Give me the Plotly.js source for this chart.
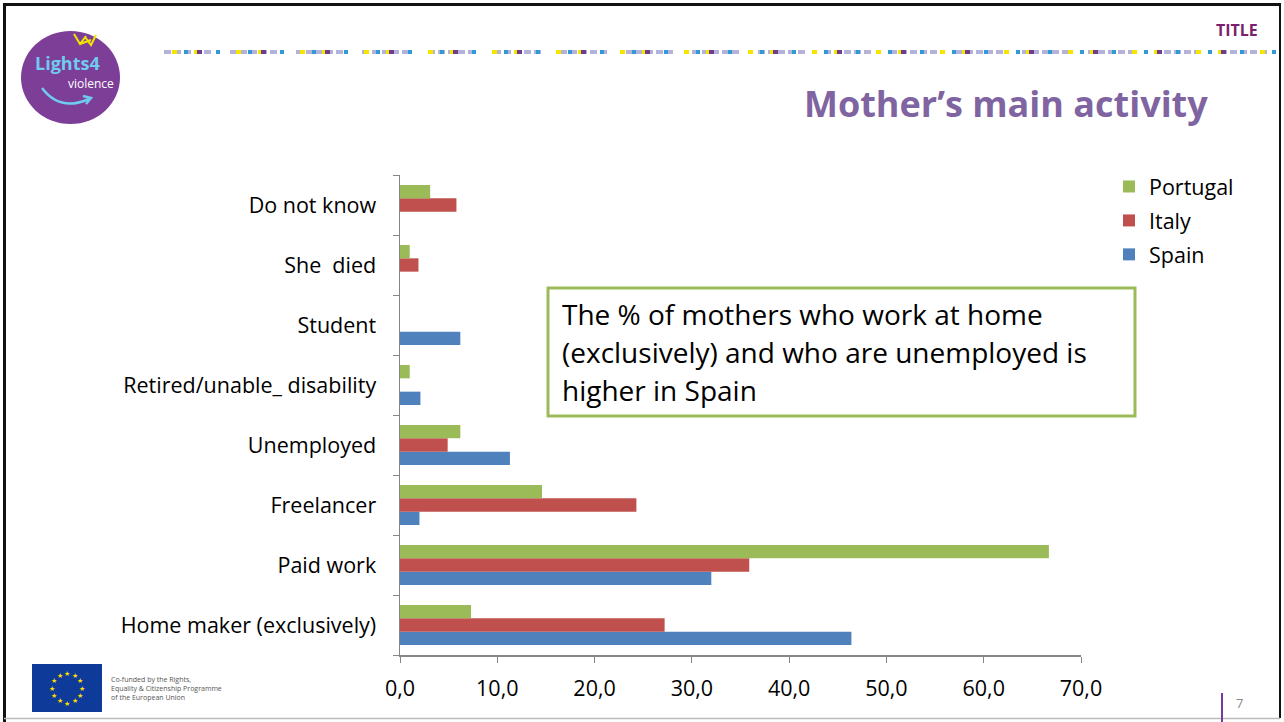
<!DOCTYPE html>
<html>
<head>
<meta charset="utf-8">
<script src="https://cdn.plot.ly/plotly-3.0.1.min.js"></script>
<style>html,body{margin:0;padding:0;background:#fff;}#chart{width:1284px;height:722px;}</style>
</head>
<body>
<div id="chart"></div>
<script>
// Categories listed bottom to top
const categories = ["Home maker (exclusively)", "Paid work", "Freelancer", "Unemployed",
  "Retired/unable_ disability", "Student", "She\u00a0\u00a0died", "Do not know"];
const spain    = [46.4, 32.0, 2.0, 11.3, 2.1, 6.2, 0, 0];
const italy    = [27.2, 35.9, 24.3, 4.9, 0, 0, 1.9, 5.8];
const portugal = [7.3, 66.7, 14.6, 6.2, 1.0, 0, 1.0, 3.1];
const xTicks = [0, 10, 20, 30, 40, 50, 60, 70];
const boxLines = ["The % of mothers who work at home",
  "(exclusively) and who are unemployed is", "higher in Spain"];

const FONT = "'Open Sans', Lato, sans-serif";
const L = 400, R = 1081, T = 175, B = 655;
const px = x => (x - L) / (R - L);
const py = y => (B - y) / (B - T);

const traces = [
  {name: "Spain", y: categories, x: spain, type: "bar", orientation: "h",
   marker: {color: "#4F81BD"}, legendgroup: "s", legendrank: 3},
  {name: "Italy", y: categories, x: italy, type: "bar", orientation: "h",
   marker: {color: "#C0504D"}, legendgroup: "i", legendrank: 2},
  {name: "Portugal", y: categories, x: portugal, type: "bar", orientation: "h",
   marker: {color: "#9BBB59"}, legendgroup: "p", legendrank: 1}
];

const shapes = [
  // slide frame
  {type: "line", xref: "paper", yref: "paper", x0: px(3), x1: px(1281), y0: py(4.5), y1: py(4.5), line: {color: "#111", width: 3}},
  {type: "line", xref: "paper", yref: "paper", x0: px(4.5), x1: px(4.5), y0: py(3), y1: py(722), line: {color: "#111", width: 3}},
  {type: "line", xref: "paper", yref: "paper", x0: px(1280), x1: px(1280), y0: py(3), y1: py(718), line: {color: "#111", width: 2}},
  {type: "line", xref: "paper", yref: "paper", x0: px(4), x1: px(1280), y0: py(718.5), y1: py(718.5), line: {color: "#bbbbbb", width: 1.5}},
  // decorative dotted header line
  {type: "line", xref: "paper", yref: "paper", x0: px(164), x1: px(1280), y0: py(52), y1: py(52), line: {color: "#B5B1D8", width: 4, dash: "7px,3px,7px,3px,7px,3px,7px,3px,7px,19px"}},
  {type: "line", xref: "paper", yref: "paper", x0: px(172), x1: px(1280), y0: py(52), y1: py(52), line: {color: "#F5E600", width: 4, dash: "5px,17px,5px,37px"}},
  {type: "line", xref: "paper", yref: "paper", x0: px(184), x1: px(1280), y0: py(52), y1: py(52), line: {color: "#2E9BD6", width: 4, dash: "4px,28px,4px,28px"}},
  {type: "line", xref: "paper", yref: "paper", x0: px(197), x1: px(1280), y0: py(52), y1: py(52), line: {color: "#6B3F8F", width: 4, dash: "5px,59px"}},
  // logo
  {type: "circle", xref: "paper", yref: "paper", x0: px(21), x1: px(120), y0: py(31), y1: py(124), fillcolor: "#7D3E97", line: {width: 0}},
  {type: "path", xref: "paper", yref: "paper",
   path: "M " + px(42) + "," + py(88) + " Q " + px(60) + "," + py(112) + " " + px(89) + "," + py(99),
   line: {color: "#6FCBEF", width: 2.5}},
  {type: "path", xref: "paper", yref: "paper",
   path: "M " + px(83) + "," + py(96) + " L " + px(91) + "," + py(98) + " L " + px(86) + "," + py(104),
   line: {color: "#6FCBEF", width: 2.5}},
  {type: "path", xref: "paper", yref: "paper",
   path: "M " + px(74) + "," + py(34) + " L " + px(80) + "," + py(44) + " L " + px(86) + "," + py(36) + " M " + px(85) + "," + py(37) + " L " + px(91) + "," + py(45) + " L " + px(96) + "," + py(35) + " M " + px(80) + "," + py(44) + " L " + px(91) + "," + py(40),
   line: {color: "#F3E500", width: 2}},
  // EU flag
  {type: "rect", xref: "paper", yref: "paper", x0: px(32), x1: px(102), y0: py(712), y1: py(664), fillcolor: "#0E3A9A", line: {width: 0}},
  // text box
  {type: "rect", xref: "paper", yref: "paper", x0: px(548), x1: px(1135), y0: py(416), y1: py(288), fillcolor: "#ffffff", line: {color: "#9BBB59", width: 3}},
  // page number bar
  {type: "line", xref: "paper", yref: "paper", x0: px(1222), x1: px(1222), y0: py(693), y1: py(722), line: {color: "#7B3A99", width: 2}}
];

const annotations = [
  {text: "<b>TITLE</b>", xref: "paper", yref: "paper", x: px(1260), y: py(30), xanchor: "right", yanchor: "middle", showarrow: false,
   font: {family: FONT, size: 16, color: "#7B1F6E"}},
  {text: "<b>Mother\u2019s main activity</b>", xref: "paper", yref: "paper", x: px(1210), y: py(104), xanchor: "right", yanchor: "middle", showarrow: false,
   font: {family: FONT, size: 36, color: "#8064A2"}},
  {text: "<b>Lights4</b>", xref: "paper", yref: "paper", x: px(67), y: py(63), xanchor: "center", yanchor: "middle", showarrow: false,
   font: {family: FONT, size: 18, color: "#6FCBEF"}},
  {text: "violence", xref: "paper", yref: "paper", x: px(91), y: py(84), xanchor: "center", yanchor: "middle", showarrow: false,
   font: {family: FONT, size: 12, color: "#ffffff"}},
  {text: "Co-funded by the Rights,<br>Equality &amp; Citizenship Programme<br>of the European Union", xref: "paper", yref: "paper",
   x: px(109), y: py(688), xanchor: "left", yanchor: "middle", align: "left", showarrow: false,
   font: {family: FONT, size: 7, color: "#555"}},
  {text: "7", xref: "paper", yref: "paper", x: px(1234), y: py(703), xanchor: "left", yanchor: "middle", showarrow: false,
   font: {family: FONT, size: 13, color: "#888"}}
];
boxLines.forEach((t, i) => annotations.push({text: t, xref: "paper", yref: "paper",
  x: px(560), y: py(314 + 38 * i), xanchor: "left", yanchor: "middle", showarrow: false,
  font: {family: FONT, size: 28, color: "#000"}}));
// EU stars
for (let k = 0; k < 12; k++) {
  const a = k * Math.PI / 6;
  annotations.push({text: "\u2605", xref: "paper", yref: "paper",
    x: px(67 + 15 * Math.sin(a)), y: py(688 - 15 * Math.cos(a)), xanchor: "center", yanchor: "middle",
    showarrow: false, font: {size: 7, color: "#FFDD00"}});
}

const layout = {
  width: 1284, height: 722,
  margin: {l: L, r: 1284 - R, t: T, b: 722 - B, pad: 0},
  paper_bgcolor: "#ffffff", plot_bgcolor: "#ffffff",
  separators: ",.",
  barmode: "group", bargap: 0.333, bargroupgap: 0,
  font: {family: FONT, color: "#000"},
  showlegend: true,
  legend: {x: px(1109), y: py(166), xanchor: "left", yanchor: "top", traceorder: "grouped",
    tracegroupgap: 3, font: {family: FONT, size: 21.5, color: "#000"}, bgcolor: "rgba(0,0,0,0)"},
  xaxis: {range: [0, 70], tickvals: xTicks, tickformat: ".1f", showgrid: false, zeroline: false,
    showline: true, linecolor: "#868686", linewidth: 1.5, ticks: "outside", ticklen: 6, tickcolor: "#868686",
    ticklabelstandoff: 8,
    tickfont: {family: FONT, size: 21.5, color: "#000"}, fixedrange: true},
  yaxis: {type: "category", categoryorder: "array", categoryarray: categories, range: [-0.5, 7.5],
    showgrid: false, zeroline: false, showline: true, linecolor: "#868686", linewidth: 1.5,
    ticks: "outside", ticklen: 6, tickcolor: "#868686", tickson: "boundaries", ticklabelstandoff: 18,
    tickfont: {family: FONT, size: 21.5, color: "#000"}, fixedrange: true},
  shapes: shapes,
  annotations: annotations
};

Plotly.newPlot("chart", traces, layout, {displayModeBar: false, staticPlot: true});
</script>
</body>
</html>
